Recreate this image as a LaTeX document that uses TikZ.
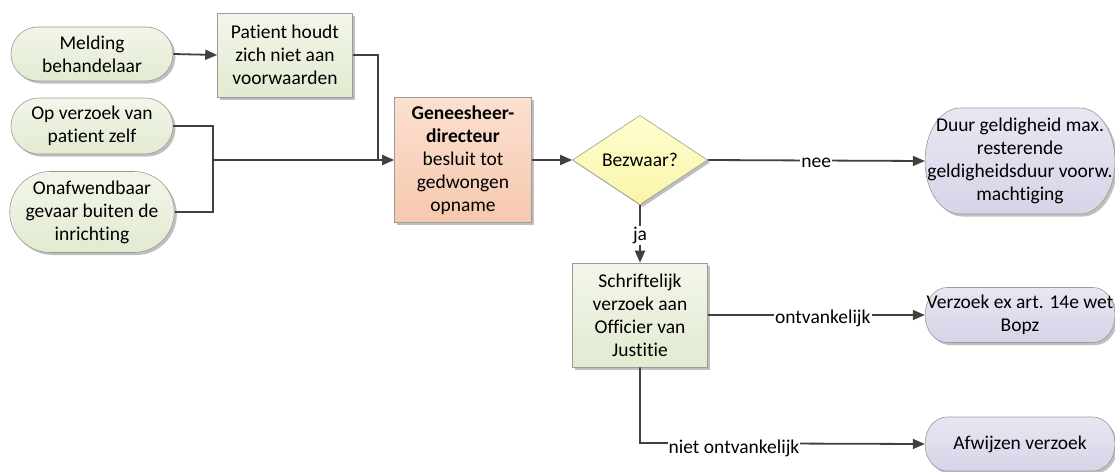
\documentclass[tikz,border=0pt]{standalone}
\usepackage{fontspec}
\setmainfont{Carlito}[Ligatures={NoCommon}]
\usetikzlibrary{shapes.misc,shapes.geometric,arrows.meta,shadows,backgrounds}
\definecolor{lnc}{HTML}{404040}
\definecolor{grtop}{HTML}{F2F6EA}
\definecolor{grbot}{HTML}{E2EAD0}
\definecolor{pktop}{HTML}{FBE0D0}
\definecolor{pkbot}{HTML}{F6C8AE}
\definecolor{yltop}{HTML}{FFFFD0}
\definecolor{ylbot}{HTML}{FAF4A8}
\definecolor{pptop}{HTML}{E9E6F2}
\definecolor{ppbot}{HTML}{D8D3E8}
\definecolor{bord}{HTML}{9A9A9A}
\tikzset{
  txt/.style={align=center, font=\fontsize{19.5}{23}\selectfont},
  shad/.style={drop shadow={shadow xshift=2.5pt, shadow yshift=-2.5pt, opacity=0.25, fill=black}},
  base/.style={draw=bord, line width=0.6pt, txt, inner sep=1pt, shad},
  greenoval/.style={base, rounded rectangle, top color=grtop, bottom color=grbot, minimum width=164pt},
  greenbox/.style={base, rectangle, top color=grtop, bottom color=grbot},
  pinkbox/.style={base, rectangle, top color=pktop, bottom color=pkbot},
  decision/.style={base, diamond, top color=yltop, bottom color=ylbot, inner sep=0pt, minimum width=135pt, minimum height=80pt},
  purpletext/.style={txt, rectangle, inner sep=0pt, minimum width=190pt},
  purpleshape/.style={draw=bord, line width=0.6pt, top color=pptop, bottom color=ppbot, shad},
  conn/.style={draw=lnc, line width=1.8pt},
  arr/.style={conn, -{Triangle[length=12pt,width=10pt]}},
  lbl/.style={fill=white, inner sep=1pt, font=\fontsize{19.5}{23}\selectfont}
}
\begin{document}
\begin{tikzpicture}[x=1pt,y=-1pt]
\useasboundingbox (0,0) rectangle (1115,471);
% nodes
\node[greenoval, minimum height=54pt] (mel) at (92,54) {Melding\\behandelaar};
\node[greenbox, minimum width=135pt, minimum height=84pt] (pat) at (285,55) {Patient houdt\\zich niet aan\\voorwaarden};
\node[greenoval, minimum height=56pt] (op) at (92,126) {Op verzoek van\\patient zelf};
\node[greenoval, minimum height=81pt] (onaf) at (92,212) {Onafwendbaar\\gevaar buiten de\\inrichting};
\node[pinkbox, minimum width=137pt, minimum height=125pt] (gen) at (463,160) {\textbf{Geneesheer-}\\\textbf{directeur}\\besluit tot\\gedwongen\\opname};
\node[decision] (dia) at (640,160) {Bezwaar?};
\node[greenbox, minimum width=135pt, minimum height=104pt] (sch) at (640,315) {Schriftelijk\\verzoek aan\\Officier van\\Justitie};
\node[purpletext, minimum height=106pt] (duur) at (1020,161) {Duur geldigheid max.\\resterende\\geldigheidsduur voorw.\\machtiging};
\node[purpletext, minimum height=55pt] (verz) at (1020,315) {Verzoek ex art. 14e wet\\Bopz};
\node[purpletext, minimum height=54pt] (afw) at (1020,444) {Afwijzen verzoek};
% purple terminator outlines
\begin{scope}[on background layer]
\path[purpleshape] (960,108) -- (1080,108)
  arc[start angle=90, end angle=-90, x radius=35pt, y radius=53pt] -- (960,214)
  arc[start angle=270, end angle=90, x radius=35pt, y radius=53pt] -- cycle;
\path[purpleshape] (947,287.5) -- (1093,287.5)
  arc[start angle=90, end angle=-90, x radius=22pt, y radius=27.5pt] -- (947,342.5)
  arc[start angle=270, end angle=90, x radius=22pt, y radius=27.5pt] -- cycle;
\path[purpleshape] (947,417) -- (1093,417)
  arc[start angle=90, end angle=-90, x radius=22pt, y radius=27pt] -- (947,471)
  arc[start angle=270, end angle=90, x radius=22pt, y radius=27pt] -- cycle;
\end{scope}
% junction coordinates
\coordinate (j1) at (378,160);
\coordinate (j2) at (213,160);
\coordinate (j3) at (640,443);
% connectors
\draw[arr] (mel.east) -- (pat.west);
\draw[conn] (pat.east) -| (j1);
\draw[conn] (op.east) -| (j2);
\draw[conn] (onaf.east) -| (j2);
\draw[arr] (j2) -- (gen.west);
\draw[arr] (gen.east) -- (dia.west);
\draw[arr] (dia.east) -- node[lbl, pos=0.5, yshift=-2pt] (nee) {nee} (duur.west);
\draw[arr] (dia.south) -- node[lbl, pos=0.5, yshift=-2pt] (ja) {ja} (sch.north);
\draw[arr] (sch.east) -- node[lbl, pos=0.53, yshift=-3pt] (ont) {ontvankelijk} (verz.west);
\draw[arr] (sch.south) -- (j3) -- node[lbl, pos=0.33, yshift=-5pt] (niet) {niet ontvankelijk} (afw.west);
\end{tikzpicture}
\end{document}
